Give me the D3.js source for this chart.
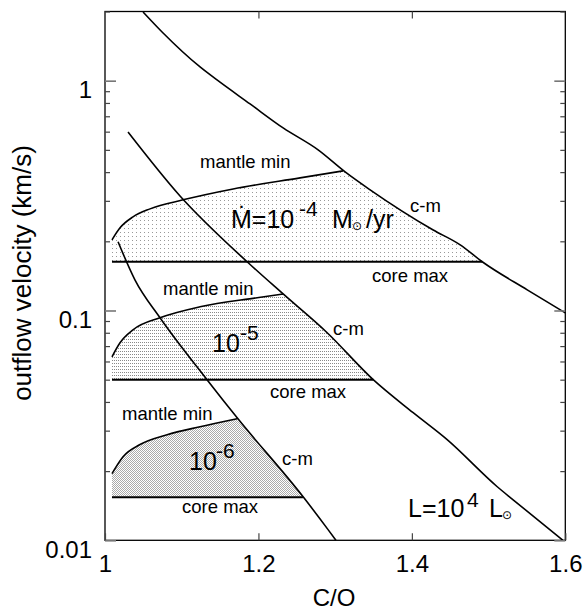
<!DOCTYPE html>
<html>
<head>
<meta charset="utf-8">
<script src="https://cdn.jsdelivr.net/npm/d3@7"></script>
<style>
  body { margin: 0; background: #fff; }
  text { font-family: "Liberation Sans", Arial, sans-serif; fill: #000; }
</style>
</head>
<body>
<div id="chart"></div>
<script>
// axis ticks
const xTickValues = [1, 1.2, 1.4, 1.6];
const xTickLabels = ["1", "1.2", "1.4", "1.6"];
const yTickValues = [0.01, 0.1, 1];
const yTickLabels = ["0.01", "0.1", "1"];

// c-m curves: [C/O, velocity]
const cmA = [[1.0496, 1.99], [1.0757, 1.612], [1.1239, 1.147], [1.146, 1.007], [1.1891, 0.792],
  [1.2322, 0.623], [1.2778, 0.500], [1.313, 0.401], [1.3456, 0.335], [1.4278, 0.224],
  [1.463, 0.193], [1.4917, 0.163], [1.5504, 0.123], [1.6, 0.0977]];
const cmB = [[1.030, 0.598], [1.0978, 0.315], [1.1852, 0.163], [1.2322, 0.118], [1.2896, 0.080],
  [1.3496, 0.050], [1.4017, 0.0359], [1.446, 0.0274], [1.5113, 0.0171], [1.532, 0.0150], [1.597, 0.010]];
const cmC = [[1.017, 0.199], [1.039, 0.136], [1.0717, 0.093], [1.133, 0.050], [1.172, 0.0342],
  [1.258, 0.0155], [1.291, 0.0111], [1.301, 0.010]];

// mantle min curves
const mantle4 = [[1.0091, 0.203], [1.0196, 0.229], [1.0365, 0.2556], [1.0587, 0.2768], [1.1017, 0.303],
  [1.167, 0.338], [1.2543, 0.3775], [1.3104, 0.405]];
const mantle5 = [[1.0091, 0.0629], [1.0196, 0.0724], [1.0365, 0.0824], [1.0717, 0.0930], [1.1239, 0.1038],
  [1.1983, 0.1136], [1.2322, 0.118]];
const mantle6 = [[1.0091, 0.0195], [1.0235, 0.0231], [1.0457, 0.0261], [1.0809, 0.0288], [1.1239, 0.0312],
  [1.1722, 0.0338]];

// core max lines
const coreMax = [0.163, 0.050, 0.0154];
const coreStart = 1.0091;
const coreEnd = [1.4917, 1.35, 1.258];

const W = 588, H = 613;
const plot = { left: 105, top: 11.5, right: 565.3, bottom: 540.3 };

const svg = d3.select("#chart")
    .append("svg")
    .attr("width", W)
    .attr("height", H);

const x = d3.scaleLinear().domain([1, 1.6]).range([plot.left, plot.right]);
const y = d3.scaleLog().domain([0.01, 2]).range([plot.bottom, plot.top]);

// stipple patterns
const defs = svg.append("defs");
function dotPattern(id, w, h, dots, color) {
    const p = defs.append("pattern")
        .attr("id", id)
        .attr("patternUnits", "userSpaceOnUse")
        .attr("width", w)
        .attr("height", h);
    p.append("rect").attr("width", w).attr("height", h).attr("fill", "#fff");
    dots.forEach(d => p.append("rect")
        .attr("x", d[0]).attr("y", d[1])
        .attr("width", 1).attr("height", 1)
        .attr("fill", color)
        .attr("shape-rendering", "crispEdges"));
}
dotPattern("dots4", 4, 4, [[0, 0]], "#999");
dotPattern("dots5", 2, 3, [[0, 0]], "#888");
dotPattern("dots6", 2, 2, [[0, 0], [1, 1]], "#aaa");

const line = d3.line()
    .x(d => x(d[0]))
    .y(d => y(d[1]))
    .curve(d3.curveMonotoneX);

const poly = d3.line()
    .x(d => x(d[0]))
    .y(d => y(d[1]))
    .curve(d3.curveLinearClosed);

// shaded regions
const mantles = [mantle4, mantle5, mantle6];
const cms = [cmA, cmB, cmC];
const fills = ["url(#dots4)", "url(#dots5)", "url(#dots6)"];
mantles.forEach((m, i) => {
    const mEnd = m[m.length - 1][0];
    const pts = m.concat(
        cms[i].filter(d => d[0] > mEnd && d[0] < coreEnd[i]),
        [[coreEnd[i], coreMax[i]], [coreStart, coreMax[i]]]
    );
    svg.append("path")
        .attr("d", poly(pts))
        .attr("fill", fills[i])
        .attr("stroke", "none");
});

// core max lines
coreMax.forEach((v, i) => {
    svg.append("line")
        .attr("x1", x(coreStart)).attr("x2", x(coreEnd[i]))
        .attr("y1", y(v)).attr("y2", y(v))
        .attr("stroke", "#000")
        .attr("stroke-width", 2);
});

// mantle min curves
mantles.forEach(m => {
    svg.append("path")
        .attr("d", line(m))
        .attr("fill", "none")
        .attr("stroke", "#000")
        .attr("stroke-width", 1.6);
});

// c-m curves
cms.forEach(c => {
    svg.append("path")
        .attr("d", line(c))
        .attr("fill", "none")
        .attr("stroke", "#000")
        .attr("stroke-width", 1.6);
});

// frame
svg.append("rect")
    .attr("x", plot.left).attr("y", plot.top)
    .attr("width", plot.right - plot.left)
    .attr("height", plot.bottom - plot.top)
    .attr("fill", "none")
    .attr("stroke", "#000")
    .attr("stroke-width", 1.3);

// axes
const minorY = y.ticks().filter(d => !yTickValues.includes(d));

function styleTicks(g, color, width) {
    g.select(".domain").remove();
    g.selectAll("line").attr("stroke", color).attr("stroke-width", width);
}

svg.append("g")
    .attr("transform", `translate(${plot.left},0)`)
    .call(d3.axisLeft(y).tickValues(minorY).tickSize(-5).tickFormat(""))
    .call(g => styleTicks(g, "#444", 1.2));

svg.append("g")
    .attr("transform", `translate(${plot.right},0)`)
    .call(d3.axisRight(y).tickValues(minorY).tickSize(-5).tickFormat(""))
    .call(g => styleTicks(g, "#444", 1.2));

const yLeft = svg.append("g")
    .attr("transform", `translate(${plot.left},0)`)
    .call(d3.axisLeft(y).tickValues(yTickValues).tickSize(-11).tickPadding(13)
        .tickFormat((d, i) => yTickLabels[i]))
    .call(g => styleTicks(g, "#777", 1.6));
yLeft.selectAll("text")
    .attr("dy", "0.7em")
    .style("font-size", "24px")
    .attr("fill", "#000")
    .attr("font-family", null);

svg.append("g")
    .attr("transform", `translate(${plot.right},0)`)
    .call(d3.axisRight(y).tickValues(yTickValues).tickSize(-11).tickFormat(""))
    .call(g => styleTicks(g, "#777", 1.6));

const xBottom = svg.append("g")
    .attr("transform", `translate(0,${plot.bottom})`)
    .call(d3.axisBottom(x).tickValues(xTickValues).tickSize(-7).tickPadding(15)
        .tickFormat((d, i) => xTickLabels[i]))
    .call(g => styleTicks(g, "#444", 1.2));
xBottom.selectAll("text")
    .style("font-size", "24px")
    .attr("fill", "#000")
    .attr("font-family", null);

svg.append("g")
    .attr("transform", `translate(0,${plot.top})`)
    .call(d3.axisTop(x).tickValues([1.2, 1.4]).tickSize(-7).tickFormat(""))
    .call(g => styleTicks(g, "#444", 1.2));

// axis titles
svg.append("text")
    .attr("x", 334).attr("y", 606)
    .attr("text-anchor", "middle")
    .style("font-size", "24px")
    .text("C/O");

svg.append("text")
    .attr("transform", "translate(31,273) rotate(-90)")
    .attr("text-anchor", "middle")
    .style("font-size", "26px")
    .text("outflow velocity (km/s)");

// annotations
function label(tx, ty, str, size) {
    return svg.append("text")
        .attr("x", tx).attr("y", ty)
        .style("font-size", size + "px")
        .text(str);
}
label(200, 168, "mantle min", 18.5);
label(410, 212, "c-m", 18.5);
label(372, 282, "core max", 18.5);
label(163, 295, "mantle min", 18.5);
label(333, 335, "c-m", 18.5);
label(270, 398, "core max", 18.5);
label(122, 420, "mantle min", 18.5);
label(282, 465, "c-m", 18.5);
label(182, 513, "core max", 18.5);

// Mdot = 10^-4 Msun/yr
const mdot = svg.append("text").attr("x", 231).attr("y", 228).style("font-size", "25px");
mdot.append("tspan").text("\u1E40=10");
mdot.append("tspan").attr("x", 299).attr("y", 216).style("font-size", "21px").text("-4");
mdot.append("tspan").attr("x", 332).attr("y", 228).text("M");
mdot.append("tspan").attr("x", 352).attr("y", 230).style("font-size", "12px")
    .style("font-family", "DejaVu Sans").text("\u2299");
mdot.append("tspan").attr("x", 366).attr("y", 228).text("/yr");

// 10^-5
const m5 = svg.append("text").attr("x", 212).attr("y", 352).style("font-size", "25px");
m5.append("tspan").text("10");
m5.append("tspan").attr("x", 240).attr("y", 340).style("font-size", "21px").text("-5");

// 10^-6
const m6 = svg.append("text").attr("x", 189).attr("y", 470).style("font-size", "25px");
m6.append("tspan").text("10");
m6.append("tspan").attr("x", 216).attr("y", 458).style("font-size", "21px").text("-6");

// L = 10^4 Lsun
const lum = svg.append("text").attr("x", 408).attr("y", 517).style("font-size", "25px");
lum.append("tspan").text("L=10");
lum.append("tspan").attr("x", 467).attr("y", 507).style("font-size", "21px").text("4");
lum.append("tspan").attr("x", 489).attr("y", 517).text("L");
lum.append("tspan").attr("x", 502).attr("y", 519).style("font-size", "12px")
    .style("font-family", "DejaVu Sans").text("\u2299");
</script>
</body>
</html>
